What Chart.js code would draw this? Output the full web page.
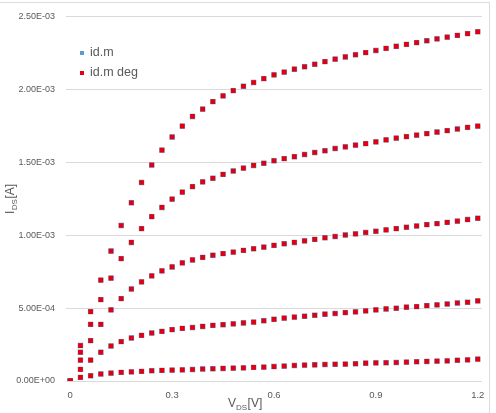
<!DOCTYPE html>
<html>
<head>
<meta charset="utf-8">
<script src="https://cdn.jsdelivr.net/npm/chart.js@4"></script>
<style>
  html, body { margin: 0; padding: 0; background: #fff; }
  #wrap { position: relative; width: 496px; height: 413px; overflow: hidden; }
  #frame { position: absolute; left: -2px; top: 2px; width: 490px; height: 430px;
           border: 1.5px solid #dcdcdc; pointer-events: none; }
  canvas { position: absolute; left: 0; top: 0; }
</style>
</head>
<body>
<div id="wrap">
  <canvas id="c" width="496" height="413"></canvas>
  <div id="frame"></div>
</div>
<script>
// V_DS values (V)
const vds = [0, 0.03, 0.06, 0.09, 0.12, 0.15, 0.18, 0.21, 0.24, 0.27,
             0.30, 0.33, 0.36, 0.39, 0.42, 0.45, 0.48, 0.51, 0.54, 0.57,
             0.60, 0.63, 0.66, 0.69, 0.72, 0.75, 0.78, 0.81, 0.84, 0.87,
             0.90, 0.93, 0.96, 0.99, 1.02, 1.05, 1.08, 1.11, 1.14, 1.17, 1.20];

// I_DS curves (A), one per gate voltage
const curve1 = [0, 0.025e-3, 0.036e-3, 0.048e-3, 0.054e-3, 0.059e-3, 0.063e-3, 0.066e-3, 0.070e-3, 0.073e-3,
  0.075e-3, 0.076e-3, 0.079e-3, 0.082e-3, 0.084e-3, 0.086e-3, 0.088e-3, 0.090e-3, 0.093e-3, 0.095e-3,
  0.099e-3, 0.102e-3, 0.106e-3, 0.109e-3, 0.111e-3, 0.113e-3, 0.115e-3, 0.116e-3, 0.118e-3, 0.122e-3,
  0.124e-3, 0.125e-3, 0.127e-3, 0.129e-3, 0.132e-3, 0.134e-3, 0.136e-3, 0.138e-3, 0.142e-3, 0.145e-3, 0.150e-3];
const curve2 = [0, 0.080e-3, 0.143e-3, 0.197e-3, 0.240e-3, 0.270e-3, 0.295e-3, 0.313e-3, 0.329e-3, 0.340e-3,
  0.352e-3, 0.361e-3, 0.367e-3, 0.374e-3, 0.381e-3, 0.386e-3, 0.392e-3, 0.398e-3, 0.404e-3, 0.413e-3,
  0.423e-3, 0.431e-3, 0.438e-3, 0.444e-3, 0.451e-3, 0.458e-3, 0.463e-3, 0.469e-3, 0.474e-3, 0.481e-3,
  0.488e-3, 0.494e-3, 0.499e-3, 0.506e-3, 0.510e-3, 0.517e-3, 0.522e-3, 0.528e-3, 0.535e-3, 0.540e-3, 0.549e-3];
const curve3 = [0, 0.143e-3, 0.277e-3, 0.388e-3, 0.488e-3, 0.565e-3, 0.631e-3, 0.680e-3, 0.721e-3, 0.755e-3,
  0.782e-3, 0.810e-3, 0.830e-3, 0.848e-3, 0.862e-3, 0.873e-3, 0.884e-3, 0.896e-3, 0.907e-3, 0.918e-3,
  0.930e-3, 0.941e-3, 0.950e-3, 0.961e-3, 0.971e-3, 0.982e-3, 0.991e-3, 1.001e-3, 1.009e-3, 1.018e-3,
  1.027e-3, 1.036e-3, 1.045e-3, 1.054e-3, 1.063e-3, 1.072e-3, 1.079e-3, 1.088e-3, 1.096e-3, 1.107e-3, 1.116e-3];
const curve4 = [0, 0.197e-3, 0.388e-3, 0.558e-3, 0.705e-3, 0.839e-3, 0.950e-3, 1.045e-3, 1.127e-3, 1.190e-3,
  1.247e-3, 1.295e-3, 1.333e-3, 1.365e-3, 1.390e-3, 1.417e-3, 1.440e-3, 1.460e-3, 1.478e-3, 1.493e-3,
  1.510e-3, 1.525e-3, 1.538e-3, 1.553e-3, 1.567e-3, 1.579e-3, 1.594e-3, 1.605e-3, 1.617e-3, 1.628e-3,
  1.640e-3, 1.653e-3, 1.665e-3, 1.676e-3, 1.686e-3, 1.696e-3, 1.707e-3, 1.717e-3, 1.728e-3, 1.739e-3, 1.748e-3];
const curve5 = [0, 0.243e-3, 0.476e-3, 0.692e-3, 0.891e-3, 1.066e-3, 1.222e-3, 1.361e-3, 1.481e-3, 1.583e-3,
  1.673e-3, 1.748e-3, 1.814e-3, 1.864e-3, 1.916e-3, 1.955e-3, 1.991e-3, 2.021e-3, 2.047e-3, 2.073e-3,
  2.099e-3, 2.118e-3, 2.138e-3, 2.155e-3, 2.172e-3, 2.190e-3, 2.207e-3, 2.222e-3, 2.237e-3, 2.252e-3,
  2.266e-3, 2.281e-3, 2.295e-3, 2.308e-3, 2.320e-3, 2.333e-3, 2.346e-3, 2.358e-3, 2.370e-3, 2.382e-3, 2.395e-3];

// the degraded series coincides with the fresh one in the picture
const idmCurves = [curve1, curve2, curve3, curve4, curve5];
const idmDegCurves = [curve1, curve2, curve3, curve4, curve5];

const seriesNames = ['id.m', 'id.m deg'];
const xTicks = [0, 0.3, 0.6, 0.9, 1.2];
const yTicks = [0, 0.5e-3, 1.0e-3, 1.5e-3, 2.0e-3, 2.5e-3];

const BLUE = '#5B9BD5';
const RED = '#E2000F';
const TEXT = '#595959';
const FONT = '"Liberation Sans", Arial, sans-serif';

function toPoints(curves) {
  const pts = [];
  curves.forEach(c => c.forEach((v, i) => pts.push({ x: vds[i], y: v })));
  return pts;
}

function fmtExp(v) {
  if (v === 0) return '0.00E+00';
  let e = Math.floor(Math.log10(Math.abs(v)) + 1e-9);
  let m = v / Math.pow(10, e);
  const sign = e < 0 ? '-' : '+';
  const ea = Math.abs(e);
  return m.toFixed(2) + 'E' + sign + (ea < 10 ? '0' + ea : ea);
}

const decorPlugin = {
  id: 'decor',
  afterDraw(chart) {
    const ctx = chart.ctx;
    ctx.save();
    // legend
    ctx.font = '12.5px ' + FONT;
    ctx.fillStyle = TEXT;
    ctx.textBaseline = 'middle';
    ctx.textAlign = 'left';
    ctx.fillStyle = BLUE;
    ctx.fillRect(80, 51, 4, 4);
    ctx.fillStyle = RED;
    ctx.fillRect(80, 71, 4, 4);
    ctx.fillStyle = TEXT;
    ctx.fillText(seriesNames[0], 90, 53);
    ctx.fillText(seriesNames[1], 90, 73);

    // x title V_DS[V]
    ctx.textBaseline = 'alphabetic';
    let x = 228, y = 407;
    ctx.font = '12px ' + FONT;
    ctx.fillText('V', x, y);
    x += ctx.measureText('V').width;
    ctx.font = '8px ' + FONT;
    ctx.fillText('DS', x, y + 3);
    x += ctx.measureText('DS').width + 0.5;
    ctx.font = '12px ' + FONT;
    ctx.fillText('[V]', x, y);

    // y title I_DS[A]
    ctx.translate(14, 214);
    ctx.rotate(-Math.PI / 2);
    x = 0; y = 0;
    ctx.font = '12px ' + FONT;
    ctx.fillText('I', x, y);
    x += ctx.measureText('I').width + 0.5;
    ctx.font = '8px ' + FONT;
    ctx.fillText('DS', x, y + 3);
    x += ctx.measureText('DS').width + 0.5;
    ctx.font = '12px ' + FONT;
    ctx.fillText('[A]', x, y);
    ctx.restore();
  }
};

new Chart(document.getElementById('c'), {
  type: 'scatter',
  data: {
    datasets: [
      { label: seriesNames[0], data: toPoints(idmCurves), pointStyle: 'rect',
        pointRadius: 3.8, backgroundColor: BLUE, borderWidth: 0, order: 2 },
      { label: seriesNames[1], data: toPoints(idmDegCurves), pointStyle: 'rect',
        pointRadius: 3.3, backgroundColor: RED, borderWidth: 0, order: 1 }
    ]
  },
  options: {
    responsive: false,
    animation: false,
    events: [],
    layout: { padding: { left: 0, right: 14, top: 13, bottom: 0 } },
    plugins: { legend: { display: false }, tooltip: { enabled: false } },
    scales: {
      x: {
        type: 'linear',
        min: -0.0125, max: 1.2125,
        afterBuildTicks(s) { s.ticks = xTicks.map(v => ({ value: v })); },
        afterFit(s) { s.height = 32; },
        grid: { display: false, drawTicks: false },
        border: { display: false },
        ticks: { color: TEXT, font: { family: FONT, size: 9.5 }, padding: 9,
                 maxRotation: 0, autoSkip: false, callback: v => String(v) }
      },
      y: {
        type: 'linear',
        min: 0, max: 2.5e-3,
        afterBuildTicks(s) { s.ticks = yTicks.map(v => ({ value: v })); },
        afterFit(s) { s.width = 66; },
        grid: { color: '#d9d9d9', lineWidth: 1, drawTicks: false },
        border: { display: false },
        ticks: { color: TEXT, font: { family: FONT, size: 9 }, padding: 11,
                 autoSkip: false, callback: v => fmtExp(v) }
      }
    }
  },
  plugins: [decorPlugin]
});
</script>
</body>
</html>
